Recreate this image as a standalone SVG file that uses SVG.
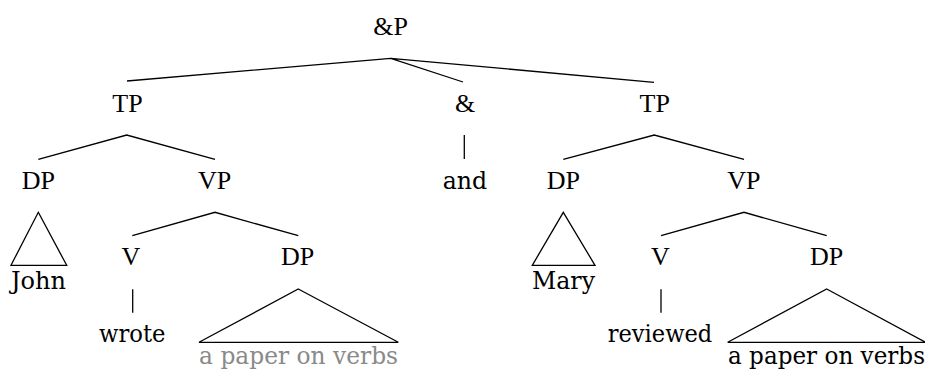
<svg xmlns="http://www.w3.org/2000/svg" width="925" height="369" viewBox="0 0 925 369">
<style>
.lab{font-family:"Liberation Serif","Times New Roman",serif;font-size:26px;fill:#000;text-anchor:middle}
.leaf{font-family:"DejaVu Serif","Liberation Serif",serif;font-size:24px;fill:#000;text-anchor:middle}
.grey{fill:#8a8a8a}
.edge{stroke:#000;stroke-width:1.3;fill:none;stroke-linecap:butt}
</style>
<rect width="925" height="369" fill="#fff"/>
<g id="connectors">
<path class="edge" d="M127 81 L390.7 58.3 L654 82.3 M390.7 58.3 L463 82"/>
<path class="edge" d="M38.3 159.3 L126.7 135 L215 159.3"/>
<path class="edge" d="M132.3 235.7 L215 212.3 L298.3 235.7"/>
<path class="edge" d="M563.3 159.3 L654.3 135 L744 159.3"/>
<path class="edge" d="M661 235.7 L744 212.3 L826.7 235.7"/>
<path class="edge" d="M464.3 135 L464.3 159"/>
<path class="edge" d="M132.7 289.3 L132.7 312.7"/>
<path class="edge" d="M661 289.3 L661 312.7"/>
<path class="edge" d="M38.3 212.3 L66.7 265.3 L11 265.3 Z"/>
<path class="edge" d="M563.3 212.3 L595 265.3 L532.3 265.3 Z"/>
<path class="edge" d="M298.3 289 L398.3 342.3 L199 342.3 Z"/>
<path class="edge" d="M826.7 289 L925.7 342.3 L727.7 342.3 Z"/>
</g>
<g id="andP"><text class="lab" x="390.5" y="35">&amp;P</text></g>
<g id="TP1"><text class="lab" x="127.5" y="112">TP</text></g>
<g id="conj"><text class="lab" x="465" y="111.5">&amp;</text></g>
<g id="TP2"><text class="lab" x="654.7" y="112">TP</text></g>
<g id="DP1"><text class="lab" x="38.3" y="189">DP</text></g>
<g id="VP1"><text class="lab" x="214.5" y="189">VP</text></g>
<g id="and"><text class="leaf" x="465" y="189" textLength="44.5" lengthAdjust="spacingAndGlyphs">and</text></g>
<g id="DP3"><text class="lab" x="563.3" y="189">DP</text></g>
<g id="VP2"><text class="lab" x="743.8" y="189">VP</text></g>
<g id="John"><text class="leaf" x="38.5" y="289.3" textLength="55" lengthAdjust="spacingAndGlyphs">John</text></g>
<g id="V1"><text class="lab" x="130.8" y="265">V</text></g>
<g id="DP2"><text class="lab" x="297.5" y="265">DP</text></g>
<g id="Mary"><text class="leaf" x="563.5" y="289.3" textLength="63" lengthAdjust="spacingAndGlyphs">Mary</text></g>
<g id="V2"><text class="lab" x="660.3" y="265">V</text></g>
<g id="DP4"><text class="lab" x="826.7" y="265">DP</text></g>
<g id="wrote"><text class="leaf" x="132.3" y="341.7" textLength="66.5" lengthAdjust="spacingAndGlyphs">wrote</text></g>
<g id="reviewed"><text class="leaf" x="660" y="341.7" textLength="104.5" lengthAdjust="spacingAndGlyphs">reviewed</text></g>
<g id="obj1"><text class="leaf grey" x="298.6" y="364" textLength="199" lengthAdjust="spacingAndGlyphs">a paper on verbs</text></g>
<g id="obj2"><text class="leaf" x="826.5" y="364" textLength="197" lengthAdjust="spacingAndGlyphs">a paper on verbs</text></g>
</svg>
